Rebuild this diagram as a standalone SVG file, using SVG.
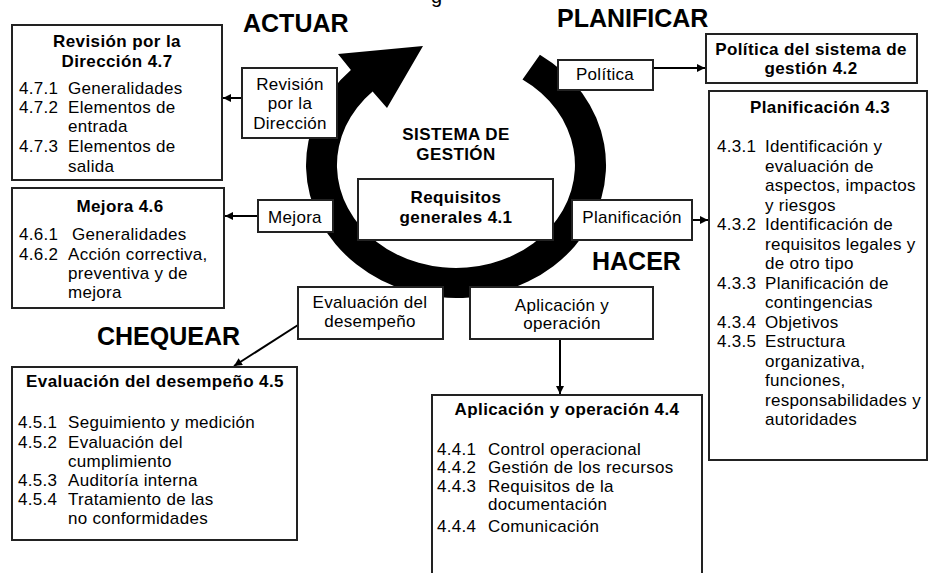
<svg xmlns="http://www.w3.org/2000/svg" width="929" height="573" viewBox="0 0 929 573">
<defs>
<style>
.box{fill:#fff;stroke:#222;stroke-width:2}
text{font-family:"Liberation Sans",Arial,sans-serif;font-size:17px;fill:#000}
.b{font-weight:bold;letter-spacing:0.4px}
.i{letter-spacing:0.3px}
.c{text-anchor:middle}
.big{font-size:25px;font-weight:bold}
.con{stroke:#000;stroke-width:2;fill:none;marker-end:url(#ah)}
</style>
<marker id="ah" viewBox="0 0 10 10" refX="10" refY="5" markerWidth="9" markerHeight="8" markerUnits="userSpaceOnUse" orient="auto">
<path d="M0,0 L10,5 L0,10 z" fill="#000"/>
</marker>
</defs>
<rect width="929" height="573" fill="#fff"/>

<text x="431" y="3" style="font-size:20px">g</text>
<text class="big" x="243" y="32">ACTUAR</text>
<text class="big" x="557" y="27">PLANIFICAR</text>
<text class="big" x="592" y="270">HACER</text>
<text class="big" x="97" y="345">CHEQUEAR</text>

<g id="cycle">
<path d="M350.9,70.1 L338,54 L423,46 L387,108 L372.6,91.5 A119,103 0 1 0 522.5,79.6 L539.9,54.7 A150,133 0 1 1 350.9,70.1 Z" fill="#000"/>
<text class="b c" x="456" y="140">SISTEMA DE</text>
<text class="b c" x="456" y="160">GESTIÓN</text>
</g>

<g id="connectors">
<line class="con" x1="242" y1="98" x2="223" y2="98"/>
<line class="con" x1="258" y1="216" x2="225" y2="216"/>
<line class="con" x1="653" y1="68" x2="705" y2="68"/>
<line class="con" x1="692" y1="220" x2="708" y2="220"/>
<line class="con" x1="298" y1="325" x2="234" y2="366"/>
<line class="con" x1="560" y1="339" x2="560" y2="394"/>
</g>

<g id="req41">
<rect class="box" x="358" y="179" width="195" height="61"/>
<text class="b c" x="456" y="203">Requisitos</text>
<text class="b c" x="456" y="223">generales 4.1</text>
</g>

<g id="revision">
<rect class="box" x="242" y="68" width="95" height="70"/>
<text class="c i" x="290" y="90">Revisión</text>
<text class="c i" x="290" y="109">por la</text>
<text class="c i" x="290" y="129">Dirección</text>
</g>

<g id="mejora">
<rect class="box" x="258" y="200" width="75" height="32"/>
<text class="c i" x="295" y="223">Mejora</text>
</g>

<g id="politica">
<rect class="box" x="558" y="60" width="95" height="30"/>
<text class="c i" x="605" y="80">Política</text>
</g>

<g id="planificacion">
<rect class="box" x="572" y="200" width="120" height="40"/>
<text class="c i" x="632" y="223">Planificación</text>
</g>

<g id="evaluacion">
<rect class="box" x="298" y="287" width="145" height="52"/>
<text class="c i" x="370" y="308">Evaluación del</text>
<text class="c i" x="370" y="327">desempeño</text>
</g>

<g id="aplicacion">
<rect class="box" x="470" y="287" width="183" height="52"/>
<text class="c i" x="562" y="311">Aplicación y</text>
<text class="c i" x="562" y="329">operación</text>
</g>

<g id="box47">
<rect class="box" x="12" y="25" width="210" height="155"/>
<text class="b c" x="117" y="47">Revisión por la</text>
<text class="b c" x="117" y="67">Dirección 4.7</text>
<text class="i" x="19" y="94">4.7.1</text><text class="i" x="68" y="94">Generalidades</text>
<text class="i" x="19" y="113">4.7.2</text><text class="i" x="68" y="113">Elementos de</text>
<text class="i" x="68" y="132">entrada</text>
<text class="i" x="19" y="152">4.7.3</text><text class="i" x="68" y="152">Elementos de</text>
<text class="i" x="68" y="172">salida</text>
</g>

<g id="box46">
<rect class="box" x="12" y="188" width="212" height="120"/>
<text class="b c" x="120" y="212">Mejora 4.6</text>
<text class="i" x="19" y="240">4.6.1</text><text class="i" x="72" y="240">Generalidades</text>
<text class="i" x="19" y="260">4.6.2</text><text class="i" x="68" y="260">Acción correctiva,</text>
<text class="i" x="68" y="279">preventiva y de</text>
<text class="i" x="68" y="298">mejora</text>
</g>

<g id="box42">
<rect class="box" x="706" y="34" width="211" height="49"/>
<text class="b c" x="811" y="55">Política del sistema de</text>
<text class="b c" x="811" y="74">gestión 4.2</text>
</g>

<g id="box43">
<rect class="box" x="709" y="91" width="218" height="369"/>
<text class="b c" x="820" y="113">Planificación 4.3</text>
<text class="i" x="717" y="152">4.3.1</text><text class="i" x="765" y="152">Identificación y</text>
<text class="i" x="765" y="171.5">evaluación de</text>
<text class="i" x="765" y="191">aspectos, impactos</text>
<text class="i" x="765" y="210.5">y riesgos</text>
<text class="i" x="717" y="230">4.3.2</text><text class="i" x="765" y="230">Identificación de</text>
<text class="i" x="765" y="249.5">requisitos legales y</text>
<text class="i" x="765" y="269">de otro tipo</text>
<text class="i" x="717" y="288.5">4.3.3</text><text class="i" x="765" y="288.5">Planificación de</text>
<text class="i" x="765" y="308">contingencias</text>
<text class="i" x="717" y="327.5">4.3.4</text><text class="i" x="765" y="327.5">Objetivos</text>
<text class="i" x="717" y="347">4.3.5</text><text class="i" x="765" y="347">Estructura</text>
<text class="i" x="765" y="366.5">organizativa,</text>
<text class="i" x="765" y="386">funciones,</text>
<text class="i" x="765" y="405.5">responsabilidades y</text>
<text class="i" x="765" y="425">autoridades</text>
</g>

<g id="box45">
<rect class="box" x="12" y="367" width="285" height="173"/>
<text class="b c" x="155" y="387">Evaluación del desempeño 4.5</text>
<text class="i" x="18" y="428">4.5.1</text><text class="i" x="68" y="428">Seguimiento y medición</text>
<text class="i" x="18" y="448">4.5.2</text><text class="i" x="68" y="448">Evaluación del</text>
<text class="i" x="68" y="467">cumplimiento</text>
<text class="i" x="18" y="486">4.5.3</text><text class="i" x="68" y="486">Auditoría interna</text>
<text class="i" x="18" y="505">4.5.4</text><text class="i" x="68" y="505">Tratamiento de las</text>
<text class="i" x="68" y="524">no conformidades</text>
</g>

<g id="box44">
<rect class="box" x="432" y="395" width="270" height="190"/>
<text class="b c" x="567" y="415">Aplicación y operación 4.4</text>
<text class="i" x="437" y="455">4.4.1</text><text class="i" x="488" y="455">Control operacional</text>
<text class="i" x="437" y="473">4.4.2</text><text class="i" x="488" y="473">Gestión de los recursos</text>
<text class="i" x="437" y="492">4.4.3</text><text class="i" x="488" y="492">Requisitos de la</text>
<text class="i" x="488" y="510">documentación</text>
<text class="i" x="437" y="532">4.4.4</text><text class="i" x="488" y="532">Comunicación</text>
</g>
</svg>
